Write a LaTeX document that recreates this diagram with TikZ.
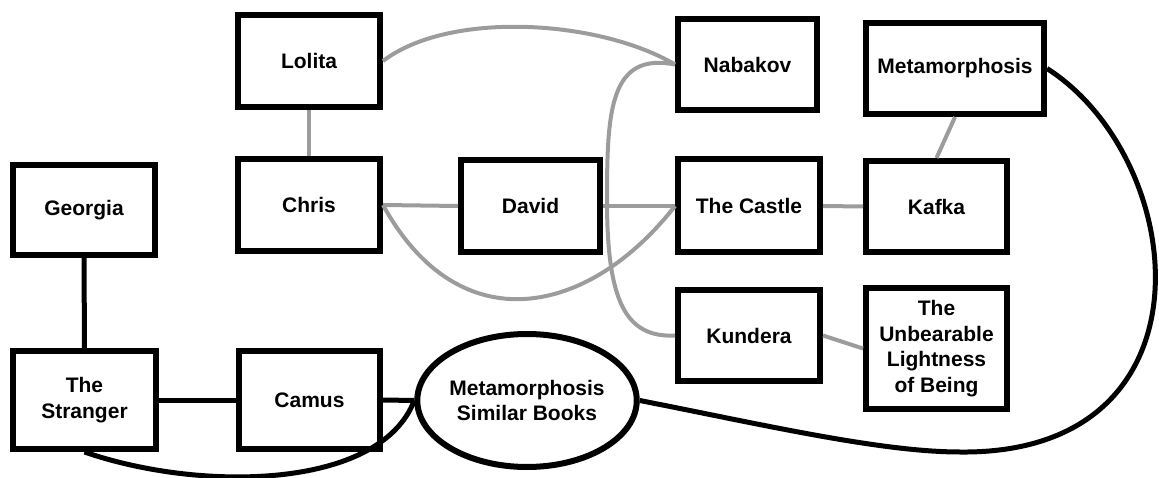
\documentclass[tikz,border=0pt]{standalone}
\usepackage{fontspec}
\setmainfont{Liberation Sans}
\usetikzlibrary{shapes.geometric}

\definecolor{linkgray}{HTML}{9C9C9C}

\tikzset{
  book/.style={draw=black, line width=6pt, rectangle, inner sep=0pt,
    align=center, font=\fontsize{21}{25.5}\selectfont\bfseries},
  hub/.style={draw=black, line width=6pt, ellipse, inner sep=0pt,
    align=center, font=\fontsize{21}{25.5}\selectfont\bfseries},
  softlink/.style={draw=linkgray, line width=4pt},
  hardlink/.style={draw=black, line width=5pt}
}

\begin{document}
\begin{tikzpicture}[x=1pt, y=-1pt]
  \useasboundingbox (0,0) rectangle (1159,478);

  % book and author boxes (positions in pixel-like units, y downward)
  \node[book, minimum width=142pt, minimum height=90pt]  (georgia)   at (84,210)    {Georgia};
  \node[book, minimum width=143pt, minimum height=98pt]  (stranger)  at (84.5,400)  {The\\Stranger};
  \node[book, minimum width=141pt, minimum height=98pt]  (camus)     at (309.5,400) {Camus};
  \node[book, minimum width=142pt, minimum height=92pt]  (lolita)    at (309,61)    {Lolita};
  \node[book, minimum width=142pt, minimum height=92pt]  (chris)     at (309,205)   {Chris};
  \node[book, minimum width=139pt, minimum height=92pt]  (david)     at (530.5,206) {David};
  \node[book, minimum width=139pt, minimum height=91pt]  (nabakov)   at (747.5,64.5){Nabakov};
  \node[book, minimum width=142pt, minimum height=93pt]  (castle)    at (749,206)   {The Castle};
  \node[book, minimum width=142pt, minimum height=91pt]  (kundera)   at (749,335.5) {Kundera};
  \node[book, minimum width=178pt, minimum height=91pt]  (metamorph) at (955,68.5)  {Metamorphosis};
  \node[book, minimum width=141pt, minimum height=91pt]  (kafka)     at (936.5,206.5) {Kafka};
  \node[book, minimum width=141pt, minimum height=121pt] (unbearable) at (936.5,348.5) {The\\Unbearable\\Lightness\\of Being};
  \node[hub, minimum width=214pt, minimum height=133pt]  (similar)   at (527,400.5) {Metamorphosis\\Similar Books};

  % waypoints of the long loops
  \coordinate (loopmid) at (607,200);
  \coordinate (bigbend) at (960,452);

  % grey links
  \draw[softlink] (lolita.south) -- (chris.north);
  \draw[softlink] (chris.east) -- (david.west);
  \draw[softlink] (david.east) -- (castle.west);
  \draw[softlink] (castle.east) -- (kafka.west);
  \draw[softlink] (metamorph.south) -- (kafka.north);
  \draw[softlink] (kundera.east) -- (unbearable.west);
  \draw[softlink] (lolita.east) .. controls (450,10) and (600,20) .. (nabakov.west);
  \draw[softlink] (nabakov.west) .. controls (610,52) and (607,110) .. (loopmid)
                  .. controls (607,300) and (625,338) .. (kundera.west);
  \draw[softlink] (chris.east) .. controls (460,345) and (590,315) .. (castle.west);

  % black links
  \draw[hardlink] (georgia.south) -- (stranger.north);
  \draw[hardlink] (stranger.east) -- (camus.west);
  \draw[hardlink] (camus.east) -- (similar.west);
  \draw[hardlink] (stranger.south) .. controls (200,492) and (380,490) .. (similar.west);
  \draw[hardlink] (similar.east) .. controls (760,424) and (880,452) .. (bigbend)
                  .. controls (1220,455) and (1190,160) .. (metamorph.east);
\end{tikzpicture}
\end{document}
